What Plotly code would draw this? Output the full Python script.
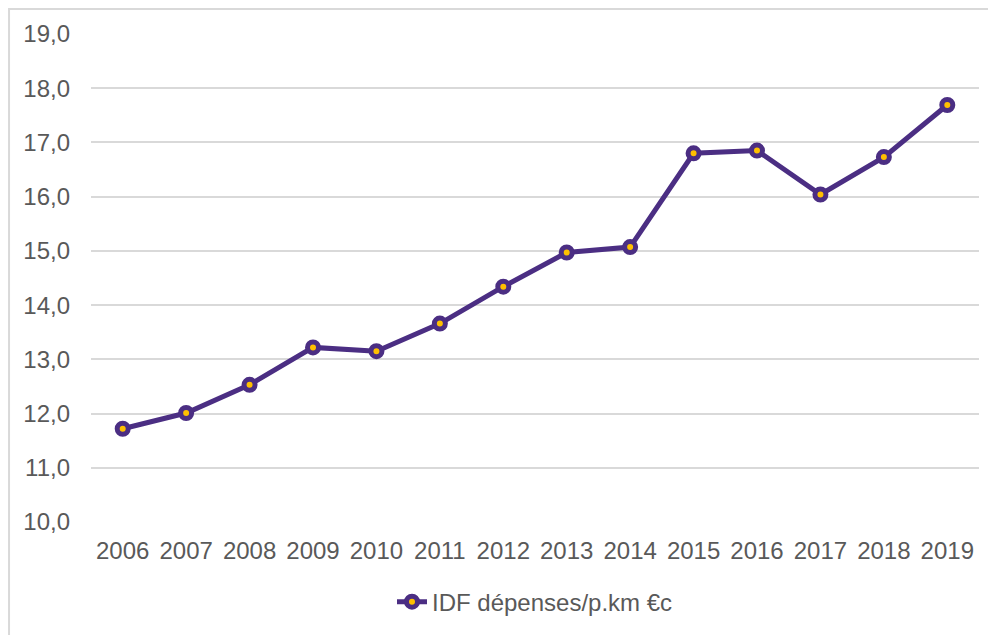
import plotly.graph_objects as go

# IDF dépenses par voyageur-km (centimes d'euro)
annees = [str(a) for a in range(2006, 2020)]
depenses = [11.72, 12.01, 12.53, 13.22, 13.15, 13.66, 14.34,
            14.97, 15.07, 16.80, 16.85, 16.04, 16.73, 17.69]

violet = "#4B2E83"
jaune = "#FFC000"
gris_txt = "#595959"

fig = go.Figure()

fig.add_trace(go.Scatter(
    x=annees, y=depenses,
    mode="lines+markers",
    name="IDF dépenses/p.km €c",
    line=dict(color=violet, width=5),
    marker=dict(size=11, color=jaune, line=dict(color=violet, width=5)),
))

fig.update_layout(
    width=996, height=635,
    margin=dict(l=83, r=25, t=26, b=121),
    paper_bgcolor="white",
    plot_bgcolor="white",
    font=dict(family="Liberation Sans, Arial", size=24, color=gris_txt),
    showlegend=True,
    legend=dict(orientation="h", x=0.5, xanchor="center", y=-0.118, yanchor="top",
                font=dict(size=24, color=gris_txt)),
    xaxis=dict(type="category", range=[-0.5, 13.5], showgrid=False, showline=False,
               zeroline=False, ticks="", ticklabelstandoff=12, automargin=False),
    yaxis=dict(range=[10, 19], dtick=1, tickformat=".1f", showgrid=True,
               gridcolor="#D9D9D9", gridwidth=1.5, zeroline=False, showline=False,
               ticks="", ticklabelstandoff=20, automargin=False),
    separators=", ",
    shapes=[dict(type="rect", xref="paper", yref="paper",
                 x0=-0.0923, x1=1.05, y0=-0.3, y1=1.051,
                 line=dict(color="#D9D9D9", width=2), fillcolor="rgba(0,0,0,0)",
                 layer="below")],
)

fig.write_html("out.html")
